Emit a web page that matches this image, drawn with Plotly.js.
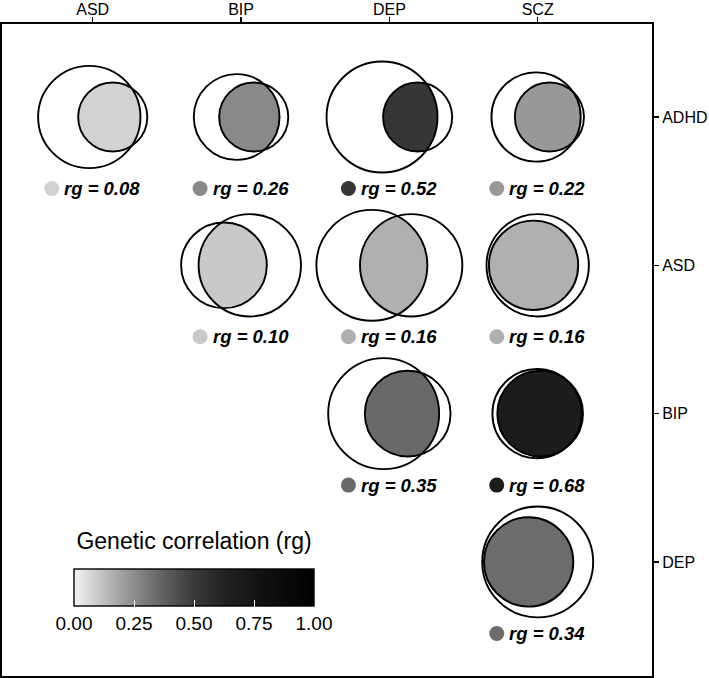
<!DOCTYPE html>
<html><head><meta charset="utf-8">
<script src="https://cdn.plot.ly/plotly-3.0.1.min.js"></script>
<style>html,body{margin:0;padding:0;background:#fff}</style>
</head><body><div id="chart" style="width:709px;height:678px"></div>
<script>
// ---- data ----
const colTraits = ['ASD', 'BIP', 'DEP', 'SCZ'];
const rowTraits = ['ADHD', 'ASD', 'BIP', 'DEP'];
const traitNames = ['ADHD', 'ASD', 'BIP', 'DEP', 'SCZ'];
const traitRadius = [0.233, 0.345, 0.289, 0.374, 0.301];      // circle radius (cell units)
const pairRow = ['ADHD', 'ADHD', 'ADHD', 'ADHD', 'ASD', 'ASD', 'ASD', 'BIP', 'BIP', 'DEP'];
const pairCol = ['ASD', 'BIP', 'DEP', 'SCZ', 'BIP', 'DEP', 'SCZ', 'DEP', 'SCZ', 'SCZ'];
const pairRg = [0.08, 0.26, 0.52, 0.22, 0.10, 0.16, 0.16, 0.35, 0.68, 0.34];
const pairDistance = [0.158, 0.115, 0.240, 0.090, 0.174, 0.265, 0.028, 0.162, 0.021, 0.061]; // centre separation
const legendTicks = [0, 0.25, 0.5, 0.75, 1];
const legendTickText = ['0.00', '0.25', '0.50', '0.75', '1.00'];

// ---- style ----
const FONT = 'Liberation Sans, Arial, Helvetica, sans-serif';
const grayScale = [[0, 'rgb(244,244,244)'], [0.1, 'rgb(201,201,201)'], [0.2, 'rgb(160,160,160)'],
  [0.3, 'rgb(122,122,122)'], [0.4, 'rgb(87,87,87)'], [0.5, 'rgb(58,58,58)'], [0.6, 'rgb(38,38,38)'],
  [0.75, 'rgb(20,20,20)'], [1, 'rgb(0,0,0)']];
const clearScale = [[0, 'rgba(0,0,0,0)'], [1, 'rgba(0,0,0,0)']];
function parseRgb(s) { return s.match(/\d+/g).map(Number); }
function grayAt(v) {
  for (let k = 1; k < grayScale.length; k++) {
    if (v <= grayScale[k][0]) {
      const [p0, c0] = grayScale[k - 1], [p1, c1] = grayScale[k];
      const t = (v - p0) / (p1 - p0), a = parseRgb(c0), b = parseRgb(c1);
      const m = a.map((x, j) => Math.round(x + (b[j] - x) * t));
      return 'rgb(' + m.join(',') + ')';
    }
  }
  return grayScale[grayScale.length - 1][1];
}

function cellGeom(i) {
  const cx = colTraits.indexOf(pairCol[i]) + 1, cy = rowTraits.indexOf(pairRow[i]) + 1;
  const rA = traitRadius[traitNames.indexOf(pairCol[i])];
  const rB = traitRadius[traitNames.indexOf(pairRow[i])];
  const d = pairDistance[i];
  const left = Math.min(-rA, d - rB), right = Math.max(rA, d + rB);
  const off = (left + right) / 2;
  return { cx, cy, xA: cx - off, xB: cx - off + d, rA, rB, d };
}
function circlePts(x0, y0, r, N) {
  const xs = [], ys = [];
  for (let k = 0; k <= N; k++) { const t = 2 * Math.PI * k / N; xs.push(x0 + r * Math.cos(t)); ys.push(y0 + r * Math.sin(t)); }
  return [xs, ys];
}
function lens(g) {
  const N = 160;
  if (g.d + g.rA <= g.rB) return circlePts(g.xA, g.cy, g.rA, N);
  if (g.d + g.rB <= g.rA) return circlePts(g.xB, g.cy, g.rB, N);
  const a = (g.d * g.d + g.rA * g.rA - g.rB * g.rB) / (2 * g.d);
  const h = Math.sqrt(g.rA * g.rA - a * a);
  const tA = Math.atan2(h, a), tB = Math.atan2(h, g.d - a);
  const xs = [], ys = [];
  for (let k = 0; k <= N; k++) { const t = tA - 2 * tA * k / N; xs.push(g.xA + g.rA * Math.cos(t)); ys.push(g.cy + g.rA * Math.sin(t)); }
  for (let k = 0; k <= N; k++) { const t = Math.PI + tB - 2 * tB * k / N; xs.push(g.xB + g.rB * Math.cos(t)); ys.push(g.cy + g.rB * Math.sin(t)); }
  return [xs, ys];
}

const traces = [], shapes = [], annotations = [];
const dotX = [], dotY = [];
const DOT_DX = -0.276, TEXT_DX = -0.204, LABEL_DY = 0.482;
pairRg.forEach((rg, i) => {
  const g = cellGeom(i);
  const [xs, ys] = lens(g);
  traces.push({ type: 'scatter', mode: 'lines', x: xs, y: ys, fill: 'toself', fillcolor: grayAt(rg),
    line: { width: 0, color: 'rgba(0,0,0,0)' }, hoverinfo: 'skip', showlegend: false });
  [[g.xA, g.rA], [g.xB, g.rB]].forEach(([x, r]) => shapes.push({
    type: 'circle', xref: 'x', yref: 'y', x0: x - r, x1: x + r, y0: g.cy - r, y1: g.cy + r,
    line: { color: 'black', width: 1.9 }, fillcolor: 'rgba(0,0,0,0)', layer: 'above' }));
  dotX.push(g.cx + DOT_DX); dotY.push(g.cy + LABEL_DY);
  annotations.push({ xref: 'x', yref: 'y', x: g.cx + TEXT_DX, y: g.cy + LABEL_DY, xanchor: 'left', yanchor: 'middle',
    text: 'rg = ' + rg.toFixed(2), showarrow: false,
    font: { family: FONT, size: 18.5, color: 'black', weight: 'bold', style: 'italic' } });
});

const cbBase = { orientation: 'h', x: 0.2954, xanchor: 'center', yanchor: 'top',
  lenmode: 'pixels', len: 240, thicknessmode: 'pixels', thickness: 37, xpad: 0, ypad: 0,
  tickvals: legendTicks, ticks: 'inside', ticklen: 6, tickcolor: 'white', tickwidth: 1 };

traces.push({ type: 'scatter', mode: 'markers', x: dotX, y: dotY, hoverinfo: 'skip', showlegend: false,
  marker: { size: 15, color: pairRg, colorscale: grayScale, cmin: 0, cmax: 1, line: { width: 0 }, showscale: true,
    colorbar: Object.assign({}, cbBase, { y: 0.2044,
      outlinewidth: 1.4, outlinecolor: 'black', ticktext: legendTickText,
      tickfont: { family: FONT, size: 19, color: 'black' },
      title: { text: 'Genetic correlation (rg)', side: 'top', font: { family: FONT, size: 23, color: 'black' } } }) } });

// transparent overlay colour bar: only draws the white ticks along the top edge of the bar
traces.push({ type: 'scatter', mode: 'markers', x: [dotX[0]], y: [dotY[0]], hoverinfo: 'skip', showlegend: false,
  marker: { size: 15, color: [pairRg[0]], colorscale: clearScale, cmin: 0, cmax: 1, opacity: 0, showscale: true,
    colorbar: Object.assign({}, cbBase, { y: 0.2044 - 27 / 652, outlinewidth: 0, bgcolor: 'rgba(0,0,0,0)',
      ticklabelposition: 'outside top', showticklabels: false }) } });

const axisCommon = { showgrid: false, zeroline: false, showline: true, mirror: true, linecolor: 'black', linewidth: 2,
  ticks: 'outside', ticklen: 5, tickwidth: 1.5, tickcolor: 'black', tickvals: [1, 2, 3, 4],
  tickfont: { family: FONT, size: 16, color: 'black' }, fixedrange: true, automargin: false };

const layout = {
  width: 709, height: 678, margin: { l: 2, r: 57, t: 24, b: 2 },
  paper_bgcolor: 'white', plot_bgcolor: 'white', showlegend: false,
  xaxis: Object.assign({}, axisCommon, { range: [0.3885, 4.7706], side: 'top', ticktext: colTraits, ticklabelstandoff: -4 }),
  yaxis: Object.assign({}, axisCommon, { range: [4.769, 0.373], side: 'right', ticktext: rowTraits }),
  shapes, annotations
};
Plotly.newPlot('chart', traces, layout, { staticPlot: true, displayModeBar: false });
</script></body></html>
